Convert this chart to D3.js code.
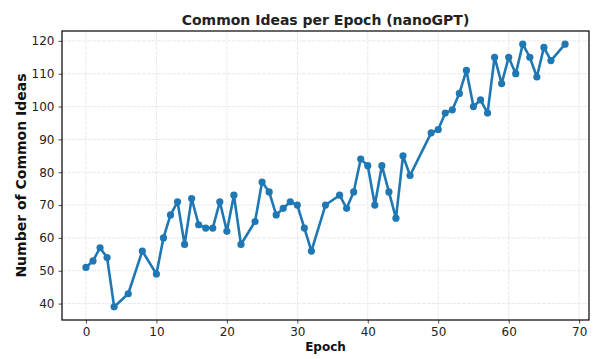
<!DOCTYPE html>
<html><head><meta charset="utf-8">
<script src="https://cdn.jsdelivr.net/npm/d3@7"></script>
<style>body{margin:0;background:#fff}svg{display:block}text{font-family:"DejaVu Sans",sans-serif}</style>
</head><body>
<svg id="c" width="597" height="359"></svg>
<script>
const epochs = [0,1,2,3,4,6,8,10,11,12,13,14,15,16,17,18,19,20,21,22,24,25,26,27,28,29,30,31,32,34,36,37,38,39,40,41,42,43,44,45,46,49,50,51,52,53,54,55,56,57,58,59,60,61,62,63,64,65,66,68];
const commonIdeas = [51,53,57,54,39,43,56,49,60,67,71,58,72,64,63,63,71,62,73,58,65,77,74,67,69,71,70,63,56,70,73,69,74,84,82,70,82,74,66,85,79,92,93,98,99,104,111,100,102,98,115,107,115,110,119,115,109,118,114,119];
const xTicks = [0,10,20,30,40,50,60,70];
const yTicks = [40,50,60,70,80,90,100,110,120];
const title = "Common Ideas per Epoch (nanoGPT)";
const xLabel = "Epoch";
const yLabel = "Number of Common Ideas";

const svg = d3.select("#c");
const L = 62, R = 589, T = 31, B = 320;
const x = d3.scaleLinear().domain([-3.4, 71.4]).range([L, R]);
const y = d3.scaleLinear().domain([35, 123]).range([B, T]);
const data = epochs.map((e,i)=>({e, v: commonIdeas[i]}));

// grid
const g = svg.append("g");
g.selectAll(".gx").data(xTicks).join("line")
  .attr("x1", d=>x(d)).attr("x2", d=>x(d)).attr("y1", T).attr("y2", B)
  .attr("stroke", "#e4e4e4").attr("stroke-width", 0.8).attr("stroke-dasharray", "4,1");
g.selectAll(".gy").data(yTicks).join("line")
  .attr("y1", d=>y(d)).attr("y2", d=>y(d)).attr("x1", L).attr("x2", R)
  .attr("stroke", "#e4e4e4").attr("stroke-width", 0.8).attr("stroke-dasharray", "4,1");

// line + markers
svg.append("path").datum(data)
  .attr("d", d3.line().x(d=>x(d.e)).y(d=>y(d.v)))
  .attr("fill", "none").attr("stroke", "#1f77b4").attr("stroke-width", 2.6).attr("stroke-linejoin", "round");
svg.selectAll(".pt").data(data).join("circle")
  .attr("cx", d=>x(d.e)).attr("cy", d=>y(d.v)).attr("r", 3.6).attr("fill", "#1f77b4");

// axes
const xa = svg.append("g").attr("transform", `translate(0,${B})`)
  .call(d3.axisBottom(x).tickValues(xTicks).tickSize(3.5).tickPadding(4).tickFormat(d3.format("d")));
const ya = svg.append("g").attr("transform", `translate(${L},0)`)
  .call(d3.axisLeft(y).tickValues(yTicks).tickSize(3.5).tickPadding(4).tickFormat(d3.format("d")));
[xa, ya].forEach(a => {
  a.select(".domain").remove();
  a.selectAll("text").attr("font-size", 12).attr("fill", "#222").attr("font-family", "DejaVu Sans");
  a.selectAll("line").attr("stroke", "#222").attr("stroke-width", 0.8);
});

// frame
svg.append("rect").attr("x", L).attr("y", T).attr("width", R-L).attr("height", B-T)
  .attr("fill", "none").attr("stroke", "#000").attr("stroke-width", 1.2);

svg.append("text").attr("x", (L+R)/2).attr("y", 25).attr("text-anchor", "middle")
  .attr("font-size", 14).attr("font-weight", "bold").attr("fill", "#222").text(title);
svg.append("text").attr("x", (L+R)/2).attr("y", 351).attr("text-anchor", "middle")
  .attr("font-size", 12).attr("font-weight", "bold").attr("fill", "#111").text(xLabel);
svg.append("text").attr("transform", `translate(26,${(T+B)/2}) rotate(-90)`).attr("text-anchor", "middle")
  .attr("font-size", 14).attr("font-weight", "bold").attr("fill", "#111").text(yLabel);
</script>
</body></html>
